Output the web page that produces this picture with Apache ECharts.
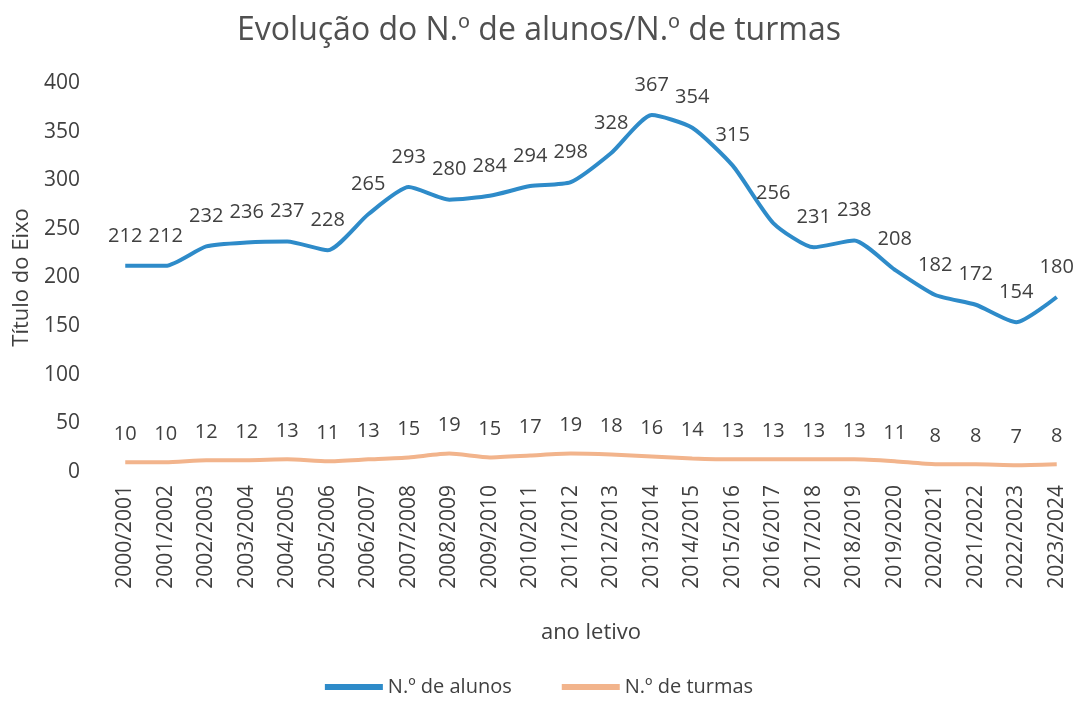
<!DOCTYPE html>
<html>
<head>
<meta charset="utf-8">
<script src="https://cdn.jsdelivr.net/npm/echarts@6/dist/echarts.min.js"></script>
<style>
  html, body { margin: 0; padding: 0; background: #fff; }
  #chart { width: 1078px; height: 702px; }
</style>
</head>
<body>
<div id="chart"></div>
<script>
// anos letivos
const anos = ['2000/2001', '2001/2002', '2002/2003', '2003/2004', '2004/2005', '2005/2006',
  '2006/2007', '2007/2008', '2008/2009', '2009/2010', '2010/2011', '2011/2012',
  '2012/2013', '2013/2014', '2014/2015', '2015/2016', '2016/2017', '2017/2018',
  '2018/2019', '2019/2020', '2020/2021', '2021/2022', '2022/2023', '2023/2024'];

const alunos = [212, 212, 232, 236, 237, 228, 265, 293, 280, 284, 294, 298,
  328, 367, 354, 315, 256, 231, 238, 208, 182, 172, 154, 180];

const turmas = [10, 10, 12, 12, 13, 11, 13, 15, 19, 15, 17, 19,
  18, 16, 14, 13, 13, 13, 13, 11, 8, 8, 7, 8];

const font = '"Open Sans", "Noto Sans", sans-serif';
const txt = '#404040';

var chart = echarts.init(document.getElementById('chart'));

chart.setOption({
  backgroundColor: '#fff',
  animation: false,
  title: {
    text: 'Evolução do N.º de alunos/N.º de turmas',
    left: 'center',
    top: 10,
    textStyle: { color: '#505050', fontFamily: font, fontSize: 32, fontWeight: 'normal' }
  },
  legend: {
    bottom: 0,
    left: 'center',
    itemWidth: 58,
    itemHeight: 6,
    itemGap: 50,
    icon: 'rect',
    textStyle: { color: txt, fontFamily: font, fontSize: 20 },
    data: ['N.º de alunos', 'N.º de turmas']
  },
  grid: { left: 105, right: 1, top: 83, bottom: 230, outerBoundsMode: 'none' },
  xAxis: {
    type: 'category',
    data: anos,
    name: 'ano letivo',
    nameLocation: 'middle',
    nameGap: 150,
    nameTextStyle: { color: txt, fontFamily: font, fontSize: 22 },
    axisLine: { show: false },
    axisTick: { show: false },
    axisLabel: { rotate: 90, color: txt, fontFamily: font, fontSize: 21, margin: 13 }
  },
  yAxis: {
    type: 'value',
    min: 0,
    max: 400,
    interval: 50,
    name: 'Título do Eixo',
    nameLocation: 'middle',
    nameGap: 72,
    nameTextStyle: { color: txt, fontFamily: font, fontSize: 22 },
    axisLine: { show: false },
    axisTick: { show: false },
    splitLine: { show: false },
    axisLabel: { color: txt, fontFamily: font, fontSize: 21, margin: 25 }
  },
  series: [
    {
      name: 'N.º de alunos',
      type: 'line',
      data: alunos,
      smooth: 0.2,
      symbol: 'circle',
      symbolSize: 0,
      lineStyle: { color: '#2E8BC9', width: 4 },
      itemStyle: { color: '#2E8BC9' },
      label: {
        show: true, position: 'top', distance: 20,
        color: txt, fontFamily: font, fontSize: 20
      }
    },
    {
      name: 'N.º de turmas',
      type: 'line',
      data: turmas,
      smooth: 0.2,
      symbol: 'circle',
      symbolSize: 0,
      lineStyle: { color: '#F2B48C', width: 4 },
      itemStyle: { color: '#F2B48C' },
      label: {
        show: true, position: 'top', distance: 18,
        color: txt, fontFamily: font, fontSize: 20
      }
    }
  ]
});
</script>
</body>
</html>
